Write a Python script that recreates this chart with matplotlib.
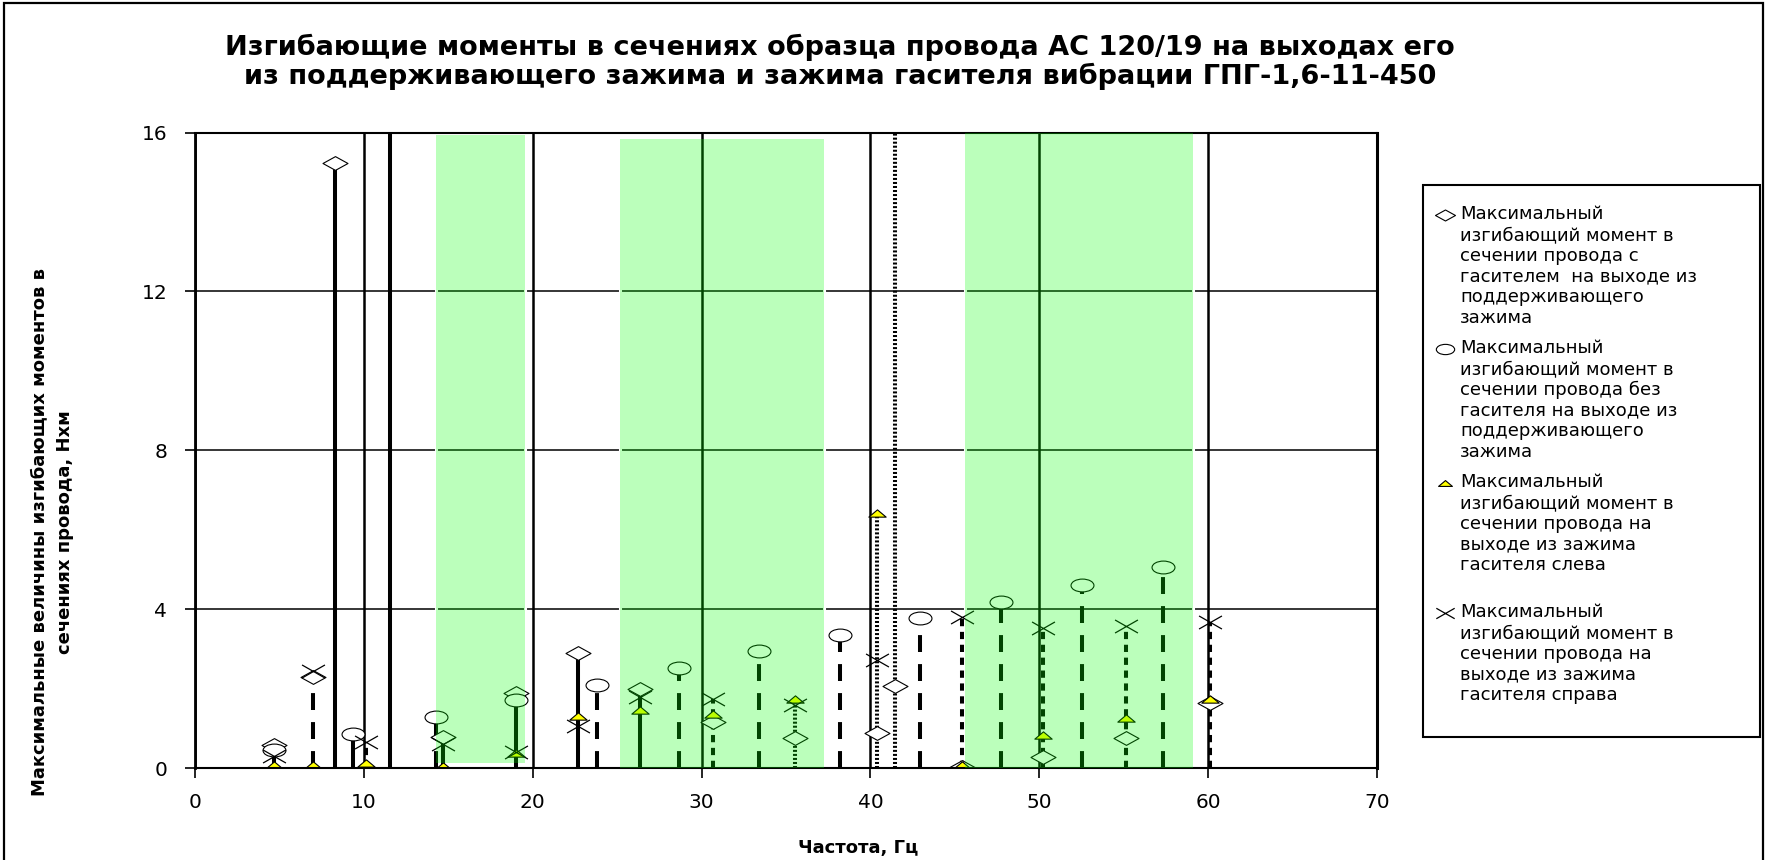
import matplotlib
matplotlib.use('agg')
from matplotlib import pyplot as plt
from matplotlib.path import Path
from matplotlib.patches import Rectangle
import numpy as np

nan = np.nan

# test frequencies, Hz (points at one frequency share a stem)
freq = [4.70, 6.97, 8.29, 9.37, 10.10, 11.55, 14.30, 14.70, 18.99, 22.70,
        23.78, 26.35, 28.66, 30.69, 33.39, 35.56, 38.20, 40.36, 41.44, 42.92,
        45.43, 47.76, 50.23, 52.53, 55.16, 57.33, 60.09]

# max bending moment, N*m: with damper, support clamp exit
m_diamond = [0.58, 2.30, 15.23, nan, nan, 17.0, nan, 0.79, 1.88, 2.89,
             nan, 1.98, nan, 1.17, nan, 0.76, nan, 0.89, 2.06, nan,
             0.02, nan, 0.28, nan, 0.76, nan, 1.63]
# without damper, support clamp exit
m_circle = [0.45, nan, nan, 0.85, nan, nan, 1.28, nan, 1.71, nan,
            2.09, nan, 2.51, nan, 2.95, nan, 3.35, nan, nan, 3.77,
            nan, 4.19, nan, 4.61, nan, 5.07, nan]
# damper clamp exit, left side
m_tri = [0.08, 0.08, nan, nan, 0.12, nan, nan, 0.06, 0.37, 1.30,
         nan, 1.45, nan, 1.37, nan, 1.75, nan, 6.42, 17.0, nan,
         0.08, nan, 0.83, nan, 1.25, nan, 1.73]
# damper clamp exit, right side
m_cross = [0.30, 2.45, nan, nan, 0.66, nan, nan, 0.60, 0.40, 1.05,
           nan, 1.80, nan, 1.75, nan, 1.59, nan, 2.72, nan, nan,
           3.79, nan, 3.52, nan, 3.57, nan, 3.67]

stem_style = ['solid', 'long', 'solid', 'solid', 'short', 'solid', 'long', 'solid', 'solid', 'solid',
              'long', 'solid', 'long', 'short', 'long', 'dot', 'long', 'dot', 'dot', 'long',
              'short', 'long', 'short', 'long', 'short', 'long', 'short']

# resonance zones
band_left = [14.25, 25.15, 45.60]
band_right = [19.55, 37.25, 59.10]
band_bottom = [0.12, 0.0, 0.0]
band_top = [15.95, 15.85, 16.0]

x_ticks = [0, 10, 20, 30, 40, 50, 60, 70]
y_ticks = [0, 4, 8, 12, 16]

title = ('Изгибающие моменты в сечениях образца провода АС 120/19 на выходах его\n'
         'из поддерживающего зажима и зажима гасителя вибрации ГПГ-1,6-11-450')
y_label = 'Максимальные величины изгибающих моментов в\nсечениях провода, Нхм'
x_label = 'Частота, Гц'
legend_labels = [
    'Максимальный\nизгибающий момент в\nсечении провода с\nгасителем  на выходе из\nподдерживающего\nзажима',
    'Максимальный\nизгибающий момент в\nсечении провода без\nгасителя на выходе из\nподдерживающего\nзажима',
    'Максимальный\nизгибающий момент в\nсечении провода на\nвыходе из зажима\nгасителя слева',
    'Максимальный\nизгибающий момент в\nсечении провода на\nвыходе из зажима\nгасителя справа',
]

W, H = 1767, 860


def fx(x):
    return x / W


def fy(y):
    return 1 - y / H


# flattened marker shapes
circ = Path.unit_circle()
m_ellipse = Path(circ.vertices * [1.0, 0.56], circ.codes)
m_rhomb = Path([(-1, 0), (0, 0.55), (1, 0), (0, -0.55), (-1, 0)], closed=True)
m_tri_path = Path([(-1, -0.42), (1, -0.42), (0, 0.42), (-1, -0.42)], closed=True)
m_x = Path([(-1, -0.57), (1, 0.57), (-1, 0.57), (1, -0.57)],
           [Path.MOVETO, Path.LINETO, Path.MOVETO, Path.LINETO])

series = [
    (m_diamond, dict(marker=m_rhomb, ms=18, mfc='white', mec='k', mew=0.8)),
    (m_circle, dict(marker=m_ellipse, ms=16.5, mfc='white', mec='k', mew=0.8)),
    (m_tri, dict(marker=m_tri_path, ms=12.5, mfc='#ffff00', mec='k', mew=0.8)),
    (m_cross, dict(marker=m_x, ms=16.5, mfc='none', mec='k', mew=0.9)),
]

dash = {'solid': 'solid', 'long': (0, (4.2, 3.0)), 'short': (0, (1.8, 1.4)), 'dot': (0, (0.5, 0.5))}

fig = plt.figure(figsize=(W / 100, H / 100), dpi=100)
ax = fig.add_axes([fx(195), fy(768), fx(1377 - 195), (768 - 132.6) / H])

ax.set_xlim(0, 70)
ax.set_ylim(0, 16)
ax.set_xticks(x_ticks)
ax.set_yticks(y_ticks)
ax.tick_params(axis='both', direction='out', length=7, width=1.2, labelsize=14.5, colors='k')
ax.tick_params(axis='y', pad=13)
ax.tick_params(axis='x', pad=11)

ax.set_axisbelow(True)
ax.yaxis.grid(True, color='k', lw=1.1)
ax.xaxis.grid(True, color='k', lw=1.8)
for s in ax.spines.values():
    s.set_linewidth(1.5)
    s.set_zorder(4)
ax.spines['right'].set_linewidth(2.2)
ax.spines['left'].set_linewidth(2.0)

# white gaps at the zone borders
for l, r, b, t in zip(band_left, band_right, band_bottom, band_top):
    ax.vlines([l, r], b, t, colors='white', lw=2.2, zorder=1.5)

# drop lines from each group of points to the axis
tops = np.fmax.reduce([np.array(s) for s, _ in series])
for style in dash:
    idx = [i for i, s in enumerate(stem_style) if s == style]
    ax.vlines([freq[i] for i in idx], 0, [tops[i] for i in idx],
              colors='k', lw=2.9, linestyles=dash[style], zorder=2)

for vals, kw in series:
    ax.plot(freq, vals, ls='none', zorder=3, **kw)

# translucent green zones laid over the grid and points
ax.bar(band_left, np.subtract(band_top, band_bottom), width=np.subtract(band_right, band_left),
       bottom=band_bottom, align='edge', color=(4 / 255, 1.0, 4 / 255), alpha=0.27, lw=0, zorder=5)

fig.text(fx(840), fy(62), title, ha='center', va='center', fontsize=19.5, fontweight='bold', linespacing=1.12)
fig.text(fx(52), fy(532), y_label, ha='center', va='center', rotation=90, fontsize=13,
         fontweight='bold', linespacing=1.6)
fig.text(fx(858), fy(848), x_label, ha='center', va='center', fontsize=13, fontweight='bold')

# legend box
fig.patches.append(Rectangle((fx(1423), fy(737)), fx(1760 - 1423), (737 - 185) / H,
                             transform=fig.transFigure, fill=False, ec='k', lw=1.5))
rows = [215, 349, 483, 613]
for (vals, kw), lab, yr in zip(series, legend_labels, rows):
    k = dict(kw)
    k['ms'] = kw['ms'] * 0.8
    fig.add_artist(plt.Line2D([fx(1445)], [fy(yr)], transform=fig.transFigure, ls='none', **k))
    fig.text(fx(1460), fy(yr - 10), lab, ha='left', va='top', fontsize=13, linespacing=1.2)

# outer chart border
fig.patches.append(Rectangle((fx(4), fy(865)), fx(1763 - 4), (865 - 3) / H,
                             transform=fig.transFigure, fill=False, ec='k', lw=1.6))

fig.savefig('out.png', dpi=100)
